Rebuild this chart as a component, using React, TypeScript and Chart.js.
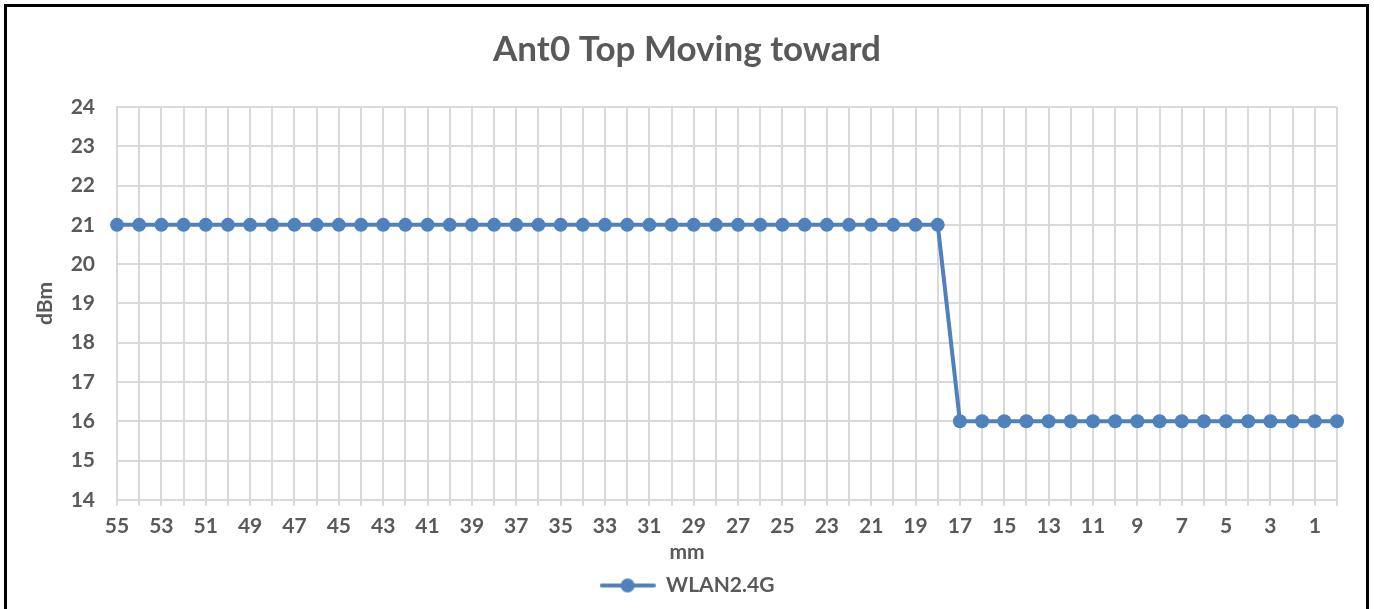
import React, { useEffect, useRef } from "react";
import { Chart, registerables } from "chart.js";

Chart.register(...registerables);

const categories = [
  "55", "54", "53", "52", "51", "50", "49", "48", "47", "46",
  "45", "44", "43", "42", "41", "40", "39", "38", "37", "36",
  "35", "34", "33", "32", "31", "30", "29", "28", "27", "26",
  "25", "24", "23", "22", "21", "20", "19", "18", "17", "16",
  "15", "14", "13", "12", "11", "10", "9", "8", "7", "6",
  "5", "4", "3", "2", "1", "0",
];

const wlanValues = [
  21, 21, 21, 21, 21, 21, 21, 21, 21, 21,
  21, 21, 21, 21, 21, 21, 21, 21, 21, 21,
  21, 21, 21, 21, 21, 21, 21, 21, 21, 21,
  21, 21, 21, 21, 21, 21, 21, 21, 16, 16,
  16, 16, 16, 16, 16, 16, 16, 16, 16, 16,
  16, 16, 16, 16, 16, 16,
];

const seriesName = "WLAN2.4G";
const chartTitle = "Ant0 Top Moving toward";
const xTitle = "mm";
const yTitle = "dBm";
const yMin = 14;
const yMax = 24;

const FONT = "Lato, 'Open Sans', sans-serif";
const TEXT = "#595959";
const GRID = "#D9D9D9";
const BLUE = "#4F81BD";
const LABEL_SIZE = 21;

function makeLegendImage(): HTMLCanvasElement {
  const c = document.createElement("canvas");
  c.width = 56;
  c.height = 16;
  const ctx = c.getContext("2d")!;
  ctx.strokeStyle = BLUE;
  ctx.lineWidth = 4;
  ctx.lineCap = "round";
  ctx.beginPath();
  ctx.moveTo(2, 8);
  ctx.lineTo(54, 8);
  ctx.stroke();
  ctx.fillStyle = BLUE;
  ctx.beginPath();
  ctx.arc(28, 8, 7, 0, Math.PI * 2);
  ctx.fill();
  return c;
}

export default function App() {
  const ref = useRef<HTMLCanvasElement | null>(null);

  useEffect(() => {
    if (!ref.current) return;
    const legendImg = makeLegendImage();
    const labelFont = { family: FONT, size: LABEL_SIZE, weight: "bold" as const };
    const chart = new Chart(ref.current, {
      type: "line",
      data: {
        labels: categories,
        datasets: [
          {
            label: seriesName,
            data: wlanValues,
            borderColor: BLUE,
            backgroundColor: BLUE,
            borderWidth: 4,
            pointRadius: 7,
            pointHoverRadius: 7,
            pointBackgroundColor: BLUE,
            pointBorderColor: BLUE,
            pointBorderWidth: 0,
            tension: 0,
            clip: false as any,
            yAxisID: "y",
          },
        ],
      },
      options: {
        responsive: false,
        animation: false,
        layout: { padding: { left: 0, right: 0, top: 0, bottom: 3 } },
        scales: {
          x: {
            type: "category",
            offset: false,
            grid: {
              display: true,
              color: GRID,
              lineWidth: 2,
              drawTicks: true,
              tickLength: 6,
              tickColor: GRID,
              tickWidth: 2,
            },
            border: { display: true, color: GRID, width: 2 },
            ticks: {
              autoSkip: false,
              maxRotation: 0,
              minRotation: 0,
              padding: 8,
              color: TEXT,
              font: labelFont,
              callback: function (_v: any, index: number) {
                return index % 2 === 0 ? categories[index] : "";
              },
            },
            afterFit: (s: any) => {
              s.height = 40;
            },
          },
          y: {
            type: "linear",
            position: "left",
            min: yMin,
            max: yMax,
            grid: {
              display: true,
              color: GRID,
              lineWidth: 2,
              drawTicks: false,
            },
            border: { display: true, color: GRID, width: 2 },
            ticks: {
              stepSize: 1,
              padding: 22,
              color: TEXT,
              font: labelFont,
            },
            title: {
              display: true,
              text: yTitle,
              color: TEXT,
              font: labelFont,
              padding: { top: 33, bottom: 0 },
            },
            afterFit: (s: any) => {
              s.width = 117;
            },
          },
          yRight: {
            type: "linear",
            position: "right",
            display: true,
            grid: { display: false },
            border: { display: false },
            ticks: { display: false },
            afterFit: (s: any) => {
              s.width = 37;
            },
          },
        },
        plugins: {
          title: {
            display: true,
            text: chartTitle,
            color: TEXT,
            font: { family: FONT, size: 35, weight: "bold" },
            padding: { top: 29, bottom: 36 },
          },
          subtitle: {
            display: true,
            text: xTitle,
            position: "bottom",
            weight: 500,
            color: TEXT,
            font: labelFont,
            padding: { top: 0, bottom: 0 },
          } as any,
          legend: {
            display: true,
            position: "bottom",
            weight: 1000,
            labels: {
              usePointStyle: true,
              pointStyleWidth: 56,
              padding: 10,
              color: TEXT,
              font: labelFont,
              generateLabels: (c: any) => {
                const items = (Chart.defaults.plugins.legend.labels as any).generateLabels(c);
                return items.map((it: any) => ({ ...it, pointStyle: legendImg }));
              },
            },
          } as any,
          tooltip: { enabled: false },
        },
      },
    });
    return () => chart.destroy();
  }, []);

  return (
    <div
      style={{
        position: "fixed",
        left: 0,
        top: 0,
        width: 1374,
        height: 609,
        background: "#fff",
        overflow: "hidden",
      }}
    >
      <div
        style={{
          position: "absolute",
          left: 4,
          top: 4,
          width: 1365,
          height: 700,
          border: "3px solid #000",
          boxSizing: "border-box",
        }}
      />
      <canvas
        ref={ref}
        width={1374}
        height={609}
        style={{ position: "absolute", left: 0, top: 0, display: "block" }}
      />
    </div>
  );
}
